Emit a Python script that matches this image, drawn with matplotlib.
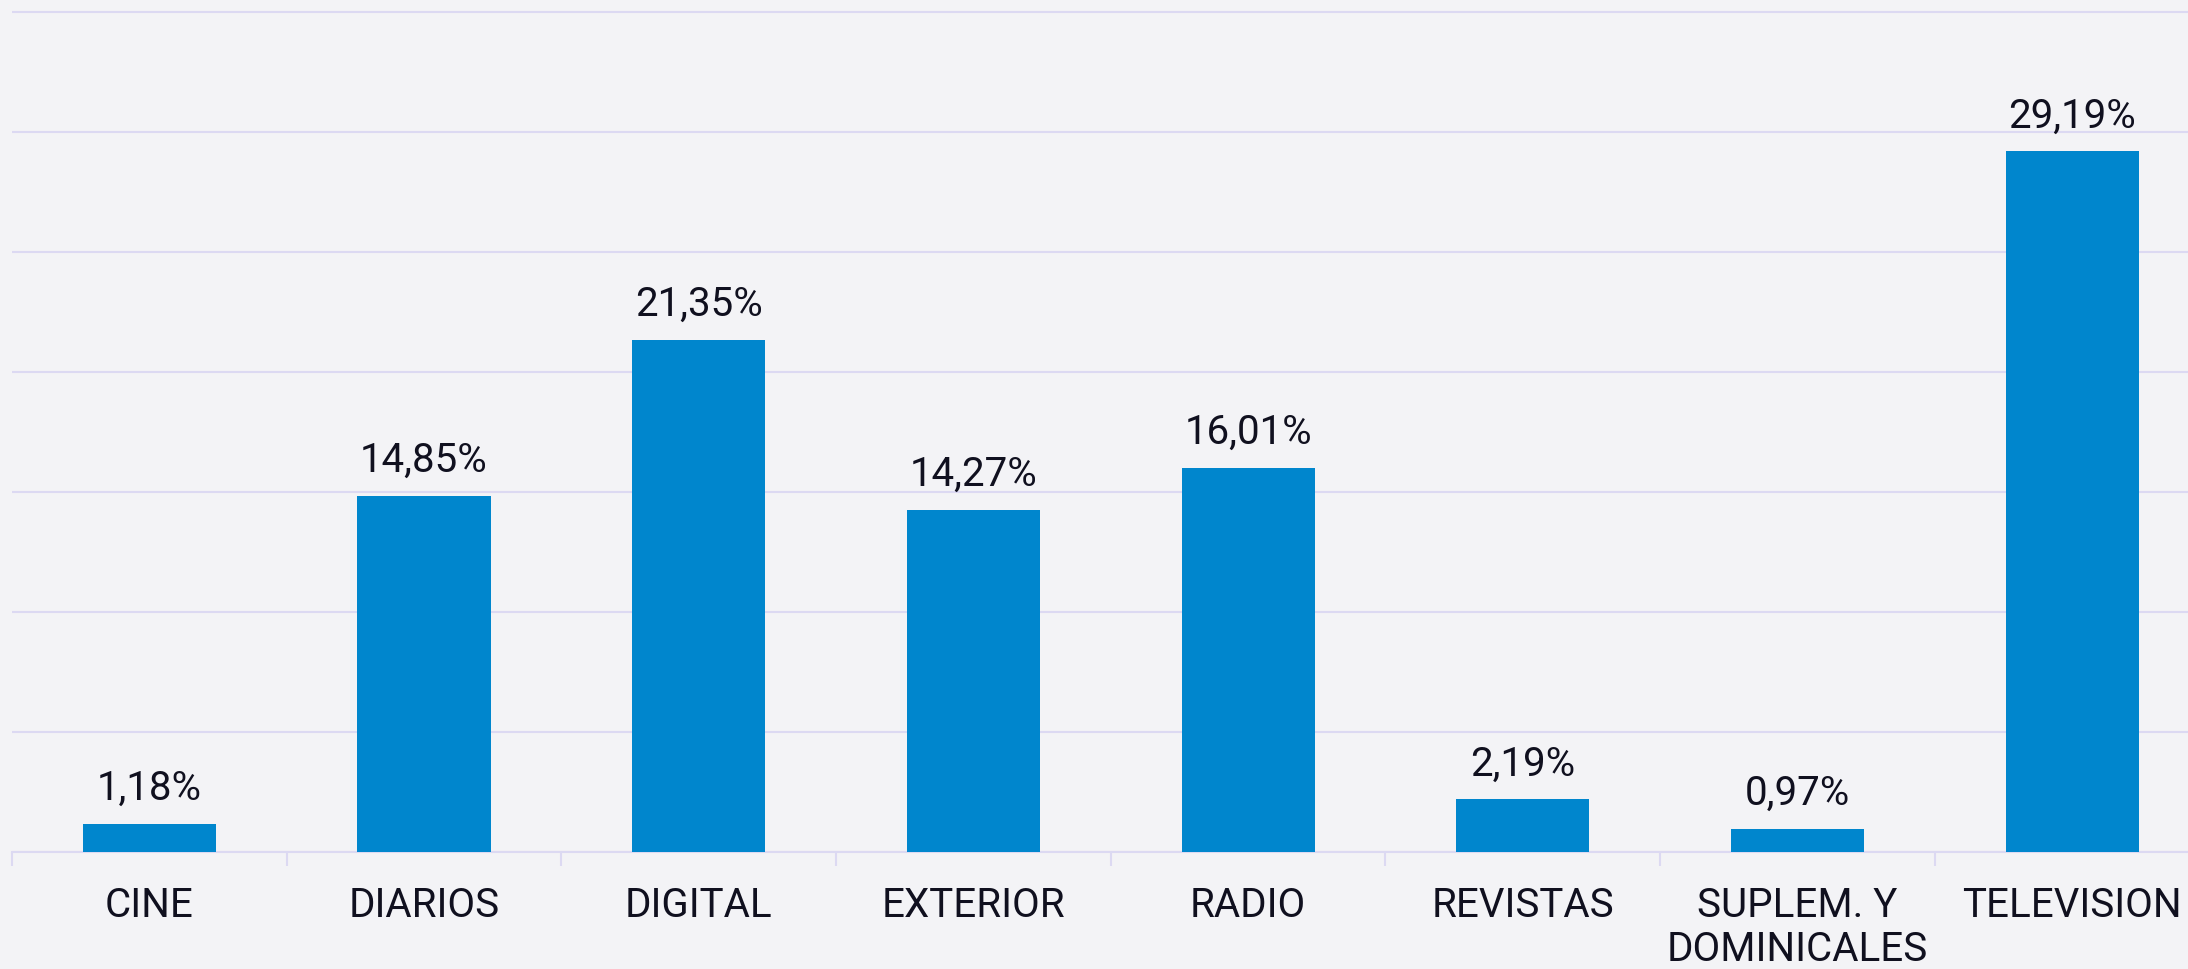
import matplotlib
matplotlib.use("Agg")
import matplotlib.pyplot as plt
import numpy as np

# share of ad spend per medium (%)
categories = ["CINE", "DIARIOS", "DIGITAL", "EXTERIOR", "RADIO",
              "REVISTAS", "SUPLEM. Y\nDOMINICALES", "TELEVISION"]
values = [1.18, 14.85, 21.35, 14.27, 16.01, 2.19, 0.97, 29.19]
labels = ["1,18%", "14,85%", "21,35%", "14,27%", "16,01%",
          "2,19%", "0,97%", "29,19%"]

bg = "#f3f3f6"
grid_col = "#dcd9f2"
bar_col = "#0086cd"
text_col = "#10101f"

plt.rcParams['font.family'] = ['Roboto', 'DejaVu Sans']

W, H = 2188, 970
fig = plt.figure(figsize=(W / 100, H / 100), dpi=100, facecolor=bg)
# axes in pixel terms: left 12, baseline at 853, 8 slots of ~274.7 px
left, right = 12, 12 + 8 * 274.7
bottom, top = 853, 1
ax = fig.add_axes([left / W, (H - bottom) / H, (right - left) / W, (bottom - top) / H])
ax.set_facecolor(bg)

x = np.arange(len(categories))
ax.bar(x, values, width=0.485, color=bar_col, zorder=3)

for xi, v, lab in zip(x, values, labels):
    ax.annotate(lab, (xi, v), xytext=(0, 18), textcoords="offset points",
                ha="center", va="baseline", fontsize=29, color=text_col, zorder=4)

ax.set_xlim(-0.5, len(categories) - 0.5)
ax.set_ylim(0, 35.5)
ax.set_yticks(np.arange(0, 36, 5))
ax.yaxis.grid(True, color=grid_col, linewidth=1.5, zorder=0)
ax.tick_params(axis="y", left=False, labelleft=False)

ax.set_xticks(x)
ax.set_xticklabels(categories, fontsize=29, color=text_col, linespacing=1.15)
ax.set_xticks(np.arange(-0.5, len(categories), 1), minor=True)
ax.tick_params(axis="x", which="major", length=0, pad=24)
ax.tick_params(axis="x", which="minor", length=10, width=1.5, color=grid_col)

for s in ["top", "right", "left"]:
    ax.spines[s].set_visible(False)
ax.spines["bottom"].set_color(grid_col)
ax.spines["bottom"].set_linewidth(1.5)

fig.savefig("out.png", dpi=100, facecolor=bg)
